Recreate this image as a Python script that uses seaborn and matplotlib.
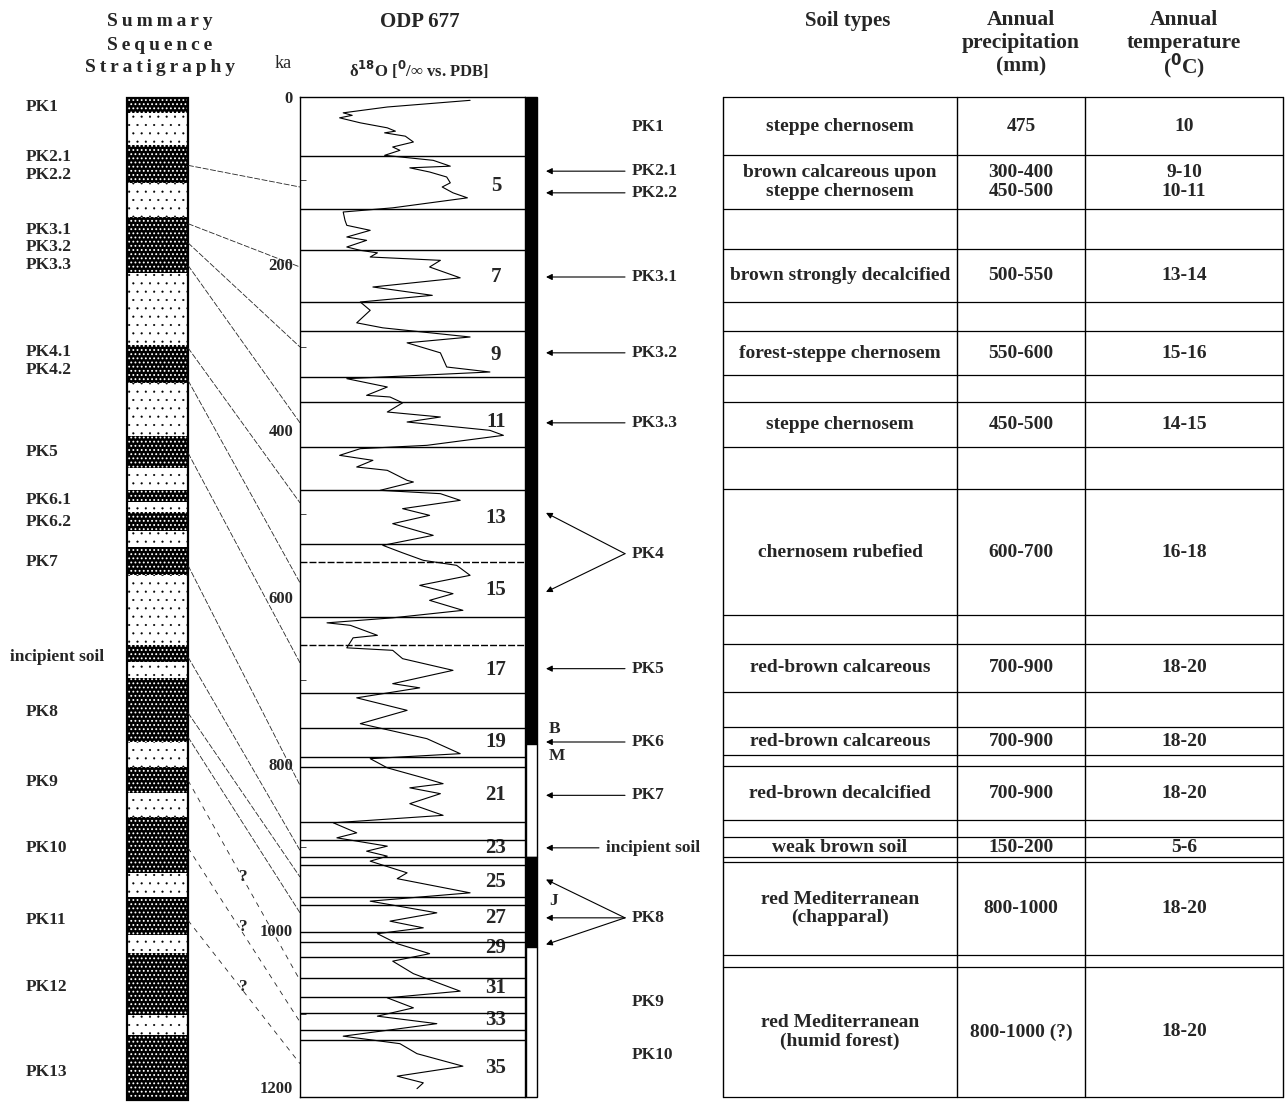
import matplotlib
matplotlib.use('Agg')
import matplotlib.pyplot as plt
import seaborn as sns
import pandas as pd

# ---------------- data ----------------
# ODP 677 oxygen isotope record (age in ka, d18O in per mil)
odp_age = [4, 12, 19, 22, 25, 31, 37, 41, 43, 47,
           54, 60, 64, 70, 76, 83, 85, 90, 96, 103,
           108, 115, 121, 133, 138, 148, 154, 160, 168, 172,
           180, 184, 187, 192, 196, 204, 217, 228, 238, 246,
           256, 271, 277, 288, 295, 307, 324, 330, 338, 348,
           358, 360, 367, 378, 384, 390, 400, 406, 418, 422,
           430, 436, 444, 448, 460, 462, 472, 476, 484, 494,
           502, 512, 526, 538, 547, 556, 562, 574, 586, 596,
           604, 616, 625, 631, 634, 646, 649, 661, 664, 674,
           688, 704, 709, 716, 721, 736, 752, 770, 788, 794,
           805, 817, 824, 829, 836, 848, 862, 871, 883, 889,
           899, 905, 911, 917, 931, 938, 955, 959, 965, 979,
           989, 997, 1004, 1016, 1028, 1037, 1052, 1073, 1081, 1093,
           1103, 1112, 1127, 1136, 1148, 1163, 1175, 1183, 1190]
odp_d18o = [3.11, 4.03, 4.52, 4.42, 4.56, 4.33, 4.03, 3.94, 4.06, 3.83,
            3.74, 3.97, 3.89, 4.06, 3.52, 3.33, 3.78, 3.56, 3.37, 3.33,
            3.42, 3.30, 3.14, 3.97, 4.52, 4.50, 4.48, 4.22, 4.48, 4.26,
            4.48, 4.33, 4.14, 4.22, 3.44, 3.56, 3.22, 4.19, 3.53, 4.33,
            4.22, 4.37, 4.08, 3.11, 3.81, 3.44, 3.37, 2.89, 4.48, 4.03,
            4.26, 4.00, 3.86, 4.03, 3.44, 3.81, 2.89, 2.74, 3.59, 4.33,
            4.56, 4.19, 4.37, 4.03, 3.81, 3.74, 4.11, 3.44, 3.22, 3.86,
            3.56, 3.97, 3.52, 4.08, 3.86, 3.63, 3.26, 3.11, 3.67, 3.30,
            3.56, 3.19, 3.97, 4.70, 4.44, 4.14, 4.41, 4.48, 3.97, 3.86,
            3.30, 3.97, 3.67, 4.08, 4.37, 3.81, 4.33, 3.59, 3.22, 4.22,
            4.03, 3.63, 3.41, 3.78, 3.44, 3.78, 3.41, 4.63, 4.37, 4.59,
            4.03, 4.26, 4.03, 4.22, 3.81, 3.92, 3.11, 3.56, 4.22, 3.48,
            4.00, 3.63, 4.14, 3.92, 3.56, 3.97, 3.74, 3.22, 4.03, 3.74,
            4.14, 3.48, 4.52, 3.89, 3.70, 3.19, 3.92, 3.63, 3.70]

# marine isotope stage boundaries (ka) and stage numbers
stage_lines = [71, 134, 184, 246, 281, 336, 366, 420, 472, 536, 558, 624, 658,
               715, 757, 792, 804, 870, 892, 912, 922, 960, 970, 1002, 1014,
               1032, 1057, 1080, 1099, 1120, 1132]
stage_dashed = [558, 658]
stage_names = ['5', '7', '9', '11', '13', '15', '17', '19', '21', '23',
               '25', '27', '29', '31', '33', '35']
stage_age = [107, 216, 310, 390, 505, 592, 688, 774, 838, 901,
             942, 985, 1021, 1069, 1108, 1165]

# magnetic polarity column (ka)
polarity_top = [0, 776, 912, 1020]
polarity_bottom = [776, 912, 1020, 1200]
polarity_normal = [True, False, True, False]
chron_names = ['B', 'M', 'J']
chron_age = [758, 791, 965]

# summary sequence stratigraphy (relative depth, same vertical scale)
strat_edges = [1, 19, 58, 103, 144, 211, 298, 343, 407, 445, 472, 486, 498,
               521, 540, 574, 658, 678, 697, 774, 804, 835, 864, 931, 960,
               1006, 1027, 1102, 1126, 1204]
strat_kind = ['soil', 'loess'] * 14 + ['soil']
strat_names = ['PK1', 'PK2.1', 'PK2.2', 'PK3.1', 'PK3.2', 'PK3.3', 'PK4.1',
               'PK4.2', 'PK5', 'PK6.1', 'PK6.2', 'PK7', 'incipient soil', 'PK8',
               'PK9', 'PK10', 'PK11', 'PK12', 'PK13']
strat_name_pos = [12, 72, 93, 160, 180, 202, 306, 328, 426, 483, 510, 558,
                  672, 738, 822, 901, 988, 1068, 1170]

# correlation lines: soil depth in the section -> age in ODP 677
corr_depth = [82, 152, 175, 202, 301, 340, 427, 562, 672, 739, 768, 820, 901, 988]
corr_age = [108, 204, 300, 391, 487, 583, 679, 826, 904, 936, 979, 1060, 1110, 1160]
corr_sure = [True] * 11 + [False] * 3
query_depth = [936, 996, 1068]

# paleosol labels next to the isotope record, with arrow targets (ka)
pk_names = ['PK1', 'PK2.1', 'PK2.2', 'PK3.1', 'PK3.2', 'PK3.3', 'PK4', 'PK5',
            'PK6', 'PK7', 'incipient soil', 'PK8', 'PK9', 'PK10']
pk_age = [36, 89, 115, 216, 307, 391, 548, 686, 774, 838, 901, 985, 1086, 1150]
pk_targets = [[], [89], [115], [216], [307], [391], [499, 594], [686], [774],
              [838], [901], [939, 985, 1017], [], []]

# soil type table
soil_top = [0, 70, 182, 281, 366, 470, 656, 756, 803, 888, 918, 1044]
soil_bottom = [70, 134, 246, 334, 420, 622, 714, 790, 868, 912, 1030, 1200]
soil_types = ['steppe chernosem', 'brown calcareous upon\nsteppe chernosem',
              'brown strongly decalcified', 'forest-steppe chernosem',
              'steppe chernosem', 'chernosem rubefied', 'red-brown calcareous',
              'red-brown calcareous', 'red-brown decalcified', 'weak brown soil',
              'red Mediterranean\n(chapparal)', 'red Mediterranean\n(humid forest)']
precip = ['475', '300-400\n450-500', '500-550', '550-600', '450-500', '600-700',
          '700-900', '700-900', '700-900', '150-200', '800-1000', '800-1000 (?)']
temp = ['10', '9-10\n10-11', '13-14', '15-16', '14-15', '16-18', '18-20',
        '18-20', '18-20', '5-6', '18-20', '18-20']

# ---------------- layout ----------------
W, H = 1287, 1104
TOP, PX_PER_KA = 97, 1000 / 1200


def fx(px):
    return px / W


def fy(py):
    return 1 - py / H


def spaced(word):
    # letter-spaced header text
    return '\u2009'.join(word)


sns.set_style('white')
plt.rcParams['font.family'] = ['Liberation Serif', 'DejaVu Serif']
plt.rcParams['font.weight'] = 'bold'
plt.rcParams['hatch.linewidth'] = 0.8

fig = plt.figure(figsize=(W / 100, H / 100), dpi=100)

# background axes: x in layout pixels, y in ka
ax = fig.add_axes([0, 0, 1, 1])
ax.set_xlim(0, W)
ax.set_ylim((H - TOP) / PX_PER_KA, -TOP / PX_PER_KA)
ax.axis('off')

# --- summary stratigraphy column ---
col_x, col_w = 157.5, 61
for top, bot, kind in zip(strat_edges[:-1], strat_edges[1:], strat_kind):
    if kind == 'soil':
        bars = ax.bar(col_x, bot - top, bottom=top, width=col_w, color='black',
                      edgecolor='white', hatch='....', linewidth=0)
    else:
        bars = ax.bar(col_x, bot - top, bottom=top, width=col_w, color='white',
                      edgecolor='black', hatch='..', linewidth=0)
        for p in bars:
            if hasattr(p, 'set_hatch_linewidth'):
                p.set_hatch_linewidth(0.3)
ax.bar(col_x, strat_edges[-1] - strat_edges[0], bottom=strat_edges[0],
       width=col_w, fill=False, edgecolor='black', linewidth=1.6)
for name, pos in zip(strat_names, strat_name_pos):
    ax.text(10 if name == 'incipient soil' else 26, pos, name, fontsize=12.5,
            va='center', ha='left')

# --- correlation lines ---
for d, a, sure in zip(corr_depth, corr_age, corr_sure):
    ax.plot([188, 300], [d, a], color='0.15', lw=0.6,
            ls=(0, (7, 2)) if sure else (0, (6, 6)))
for q in query_depth:
    ax.text(243, q, '?', fontsize=12.5, ha='center', va='center')

# --- polarity column ---
for top, bot, normal in zip(polarity_top, polarity_bottom, polarity_normal):
    ax.bar(531, bot - top, bottom=top, width=11,
           color='black' if normal else 'white', edgecolor='black', linewidth=1)
for name, a in zip(chron_names, chron_age):
    ax.text(549, a, name, fontsize=12.5, ha='left', va='center')

# --- stage numbers ---
for name, a in zip(stage_names, stage_age):
    ax.text(496, a, name, fontsize=15, ha='center', va='center')

# --- paleosol labels and arrows ---
for name, a, targets in zip(pk_names, pk_age, pk_targets):
    lx = 606 if name == 'incipient soil' else 632
    ax.text(lx, a, name, fontsize=12.5, ha='left', va='center')
    for t in targets:
        ax.annotate('', xy=(546, t), xytext=(lx - 7, a),
                    arrowprops=dict(arrowstyle='-|>', lw=0.8, color='black',
                                    mutation_scale=9, shrinkA=0, shrinkB=0))

# --- table ---
tl, c1, c2, tr = 723, 957, 1085, 1283
for y in sorted(set(soil_top + soil_bottom)):
    ax.plot([tl, tr], [y, y], color='black', lw=0.9)
for x in [tl, c1, c2, tr]:
    ax.plot([x, x], [0, 1200], color='black', lw=1.0)
for top, bot, s, p, t in zip(soil_top, soil_bottom, soil_types, precip, temp):
    mid = (top + bot) / 2
    ax.text((tl + c1) / 2, mid, s, fontsize=14, ha='center', va='center', linespacing=1.1)
    ax.text((c1 + c2) / 2, mid, p, fontsize=14, ha='center', va='center', linespacing=1.1)
    ax.text((c2 + tr) / 2, mid, t, fontsize=14, ha='center', va='center', linespacing=1.1)

# --- ODP 677 record ---
ax_odp = fig.add_axes([fx(300), fy(TOP + 1000), fx(225), 1000 / H])
ax_odp.patch.set_alpha(0)
df = pd.DataFrame({'age': odp_age, 'd18o': odp_d18o})
sns.lineplot(data=df, x='d18o', y='age', orient='y', estimator=None, sort=False,
             color='black', lw=0.8, ax=ax_odp)
for y in stage_lines:
    ax_odp.axhline(y, color='black', lw=1.0,
                   ls=(0, (5, 1.5)) if y in stage_dashed else '-')
ax_odp.set_xlim(5.0, 2.5)
ax_odp.set_ylim(1200, 0)
ax_odp.set_xticks([])
ax_odp.set_yticks(range(0, 1201, 200))
ax_odp.set_yticks(range(100, 1200, 200), minor=True)
ax_odp.tick_params(axis='y', which='major', direction='out', length=4, labelsize=12, pad=1)
ax_odp.tick_params(axis='y', which='minor', direction='in', length=4, left=True)
ax_odp.get_yticklabels()[-1].set_va('bottom')
ax_odp.set_xlabel('')
ax_odp.set_ylabel('')
for sp in ax_odp.spines.values():
    sp.set_color('black')
    sp.set_linewidth(1.0)

# --- headers ---
for txt, py in zip(['Summary', 'Sequence', 'Stratigraphy'], [21, 45, 68]):
    fig.text(fx(160), fy(py), spaced(txt), fontsize=14, ha='center', va='center')
fig.text(fx(420), fy(22), 'ODP 677', fontsize=15, ha='center', va='center')
fig.text(fx(283), fy(64), 'ka', fontsize=13, ha='center', va='center', fontweight='normal')
fig.text(fx(419), fy(70), r'δ$^{18}$O [$^{0}$/∞ vs. PDB]', fontsize=12,
         ha='center', va='center')
fig.text(fx(848), fy(21), 'Soil types', fontsize=15, ha='center', va='center')
for txt, py in zip(['Annual', 'precipitation', '(mm)'], [20, 43, 66]):
    fig.text(fx(1021), fy(py), txt, fontsize=15.5, ha='center', va='center')
for txt, py in zip(['Annual', 'temperature', '($^{0}$C)'], [20, 43, 66]):
    fig.text(fx(1184), fy(py), txt, fontsize=15.5, ha='center', va='center')

fig.savefig('out.png', dpi=100, facecolor='white')
